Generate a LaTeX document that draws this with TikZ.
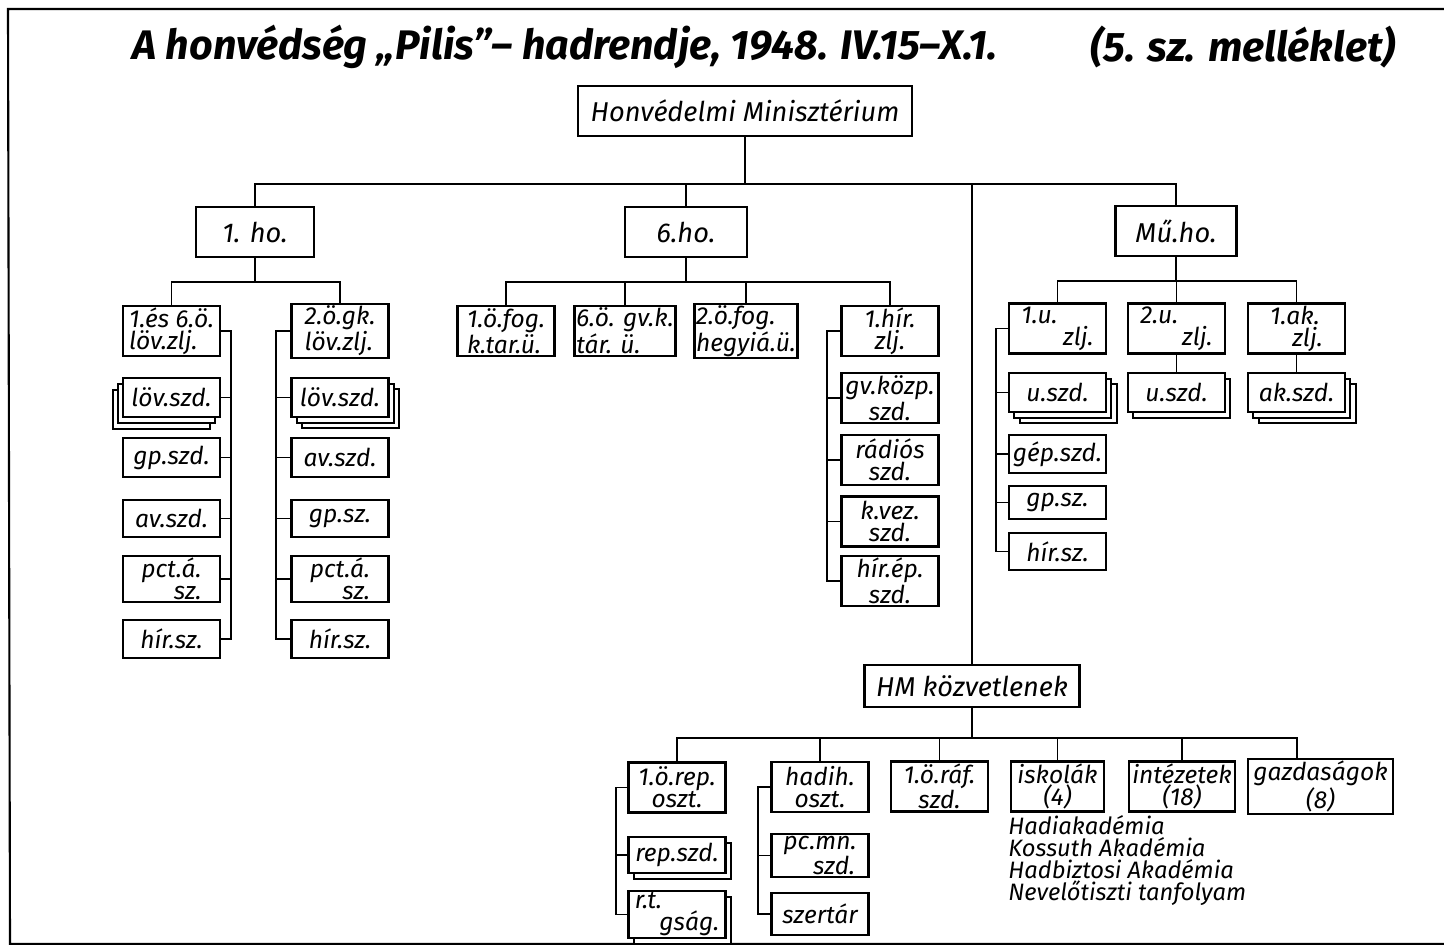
\documentclass[tikz,border=0pt]{standalone}
\usepackage{fontspec}
\setmainfont{Fira Sans}
\usetikzlibrary{shadows}

\tikzset{
  unitbox/.style={draw, line width=1.4pt, fill=white, inner sep=1pt, align=center,
    font=\fontsize{14}{12.5}\selectfont\itshape, minimum width=1.94cm, minimum height=1cm},
  topbox/.style={unitbox, font=\fontsize{15.5}{14}\selectfont\itshape},
  subbox/.style={unitbox, minimum height=0.78cm},
  link/.style={line width=1.1pt},
  stackleft/.style={
    general shadow={shadow xshift=-5.6pt, shadow yshift=-6.6pt, draw, line width=1.1pt, fill=white},
    general shadow={shadow xshift=-2.8pt, shadow yshift=-3.3pt, draw, line width=1.1pt, fill=white}},
  stackright/.style={
    general shadow={shadow xshift=6pt, shadow yshift=-6.4pt, draw, line width=1.1pt, fill=white},
    general shadow={shadow xshift=3pt, shadow yshift=-3.2pt, draw, line width=1.1pt, fill=white}},
  stackone/.style={
    general shadow={shadow xshift=3pt, shadow yshift=-3.2pt, draw, line width=1.1pt, fill=white}},
  heading/.style={font=\fontsize{23.5}{26}\selectfont\bfseries\itshape},
}

\begin{document}
\begin{tikzpicture}[x=0.02cm, y=-0.02cm]
  \useasboundingbox (0,0) rectangle (1444,945);
  \draw[line width=1.2pt] (1444,9) -- (8,9) -- (10,944) -- (1444,944);

  \node[heading] (title) at (565,47) {A honvédség „Pilis”– hadrendje, 1948. IV.15–X.1.};
  \node[heading] (annex) at (1243,47) {(5. sz. melléklet)};

  % ministry and divisions
  \node[topbox, minimum width=6.68cm] (hm) at (745,111) {Honvédelmi Minisztérium};
  \node[topbox, minimum width=2.36cm] (ho1) at (255,232) {1. ho.};
  \node[topbox, minimum width=2.44cm] (ho6) at (686,232) {6.ho.};
  \node[topbox, minimum width=2.42cm] (muho) at (1176,231) {Mű.ho.};
  \node[topbox, minimum width=4.3cm, minimum height=0.84cm] (hmk) at (972,686) {HM közvetlenek};

  \coordinate (topbus) at (0,184);
  \draw[link] (hm.south) -- (hm.south |- topbus);
  \draw[link] (ho1.north) |- (muho.north |- topbus) -- (muho.north);
  \draw[link] (ho6.north) -- (ho6.north |- topbus);
  \draw[link] (hmk.north) -- (hmk.north |- topbus);

  % 1. ho.
  \coordinate (busA) at (0,282);
  \node[unitbox, align=left] (zljA) at (171.5,331) {1.és 6.ö.\\löv.zlj.};
  \node[unitbox, align=left] (zljB) at (340,331) {2.ö.gk.\\löv.zlj.};
  \draw[link] (ho1.south) -- (ho1.south |- busA);
  \draw[link] (zljA.north) |- (zljB.north |- busA) -- (zljB.north);

  \node[subbox, stackleft] (lovA) at (171.5,397.5) {löv.szd.};
  \node[subbox] (gpA) at (171.5,457.5) {gp.szd.};
  \node[subbox, minimum height=0.74cm] (avA) at (171.5,518.5) {av.szd.};
  \node[subbox, minimum height=0.84cm, align=right] (pctA) at (171.5,579) {pct.á.\\sz.};
  \node[subbox, minimum height=0.76cm] (hirA) at (171.5,639) {hír.sz.};
  \draw[link] (zljA.east) -- ++(10,0) |- (hirA.east);
  \foreach \b in {lovA,gpA,avA,pctA} \draw[link] (\b.east) -- ++(10,0);

  \node[subbox, stackright] (lovB) at (340,397.5) {löv.szd.};
  \node[subbox] (avB) at (340,457.5) {av.szd.};
  \node[subbox, minimum height=0.74cm] (gpB) at (340,518.5) {gp.sz.};
  \node[subbox, minimum height=0.84cm, align=right] (pctB) at (340,579) {pct.á.\\sz.};
  \node[subbox, minimum height=0.76cm] (hirB) at (340,639) {hír.sz.};
  \draw[link] (zljB.west) -- ++(-14,0) |- (hirB.west);
  \foreach \b in {lovB,avB,gpB,pctB} \draw[link] (\b.west) -- ++(-14,0);

  % 6. ho.
  \coordinate (busB) at (0,282);
  \node[unitbox, align=left] (ktar) at (506,331) {1.ö.fog.\\k.tar.ü.};
  \node[unitbox, align=left] (gvk) at (625,331) {6.ö. gv.k.\\tár. ü.};
  \node[unitbox, align=left] (hegy) at (746,331) {2.ö.fog.\\hegyiá.ü.};
  \node[unitbox] (hirzlj) at (890,331) {1.hír.\\zlj.};
  \draw[link] (ho6.south) -- (ho6.south |- busB);
  \draw[link] (ktar.north) |- (hirzlj.north |- busB) -- (hirzlj.north);
  \draw[link] (gvk.north) -- (gvk.north |- busB);
  \draw[link] (hegy.north) -- (hegy.north |- busB);

  \node[unitbox] (kozp) at (890,398) {gv.közp.\\szd.};
  \node[unitbox] (radio) at (890,460) {rádiós\\szd.};
  \node[unitbox] (kvez) at (890,521.5) {k.vez.\\szd.};
  \node[unitbox] (hirep) at (890,581) {hír.ép.\\szd.};
  \draw[link] (hirzlj.west) -- ++(-13,0) |- (hirep.west);
  \foreach \b in {kozp,radio,kvez} \draw[link] (\b.west) -- ++(-13,0);

  % Mű. ho.
  \coordinate (busC) at (0,281);
  \node[unitbox, align=left] (uzljA) at (1057.5,328.5) {1.u.\\\hspace*{1.7em}zlj.};
  \node[unitbox, align=left] (uzljB) at (1176.5,328.5) {2.u.\\\hspace*{1.7em}zlj.};
  \node[unitbox, align=left] (akzlj) at (1296.5,328.5) {1.ak.\\\hspace*{0.9em}zlj.};
  \draw[link] (muho.south) -- (muho.south |- busC);
  \draw[link] (uzljA.north) |- (akzlj.north |- busC) -- (akzlj.north);
  \draw[link] (uzljB.north) -- (uzljB.north |- busC);

  \node[subbox, stackright] (uszdA) at (1057.5,392.5) {u.szd.};
  \node[subbox, minimum height=0.76cm] (gep) at (1057.5,454) {gép.szd.};
  \node[subbox, minimum height=0.66cm] (gpC) at (1057.5,502.5) {gp.sz.};
  \node[subbox, minimum height=0.74cm] (hirC) at (1057.5,551.5) {hír.sz.};
  \draw[link] (uzljA.west) -- ++(-12,0) |- (hirC.west);
  \foreach \b in {uszdA,gep,gpC} \draw[link] (\b.west) -- ++(-12,0);

  \node[subbox, stackone] (uszdB) at (1176.5,392.5) {u.szd.};
  \node[subbox, stackright] (akszd) at (1296.5,392.5) {ak.szd.};
  \draw[link] (uzljB.south) -- (uszdB.north);
  \draw[link] (akzlj.south) -- (akszd.north);

  % HM közvetlenek
  \coordinate (busD) at (0,738);
  \coordinate (gazdbus) at (1297,738);
  \node[unitbox] (rep) at (677,787.5) {1.ö.rep.\\oszt.};
  \node[unitbox] (hadih) at (820,787) {hadih.\\oszt.};
  \node[unitbox] (raf) at (939.5,786.5) {1.ö.ráf.\\szd.};
  \node[unitbox, minimum width=1.86cm] (isk) at (1057.5,786.5) {iskolák\\(4)};
  \node[unitbox, minimum width=2.12cm] (int) at (1182,786.5) {intézetek\\(18)};
  \node[unitbox, minimum width=2.9cm] (gazd) at (1320.5,786.5) {gazdaságok\\(8)};
  \draw[link] (hmk.south) -- (hmk.south |- busD);
  \draw[link] (rep.north) |- (gazdbus) -- (gazdbus |- gazd.north);
  \foreach \b in {hadih,raf,isk,int} \draw[link] (\b.north) -- (\b.north |- busD);

  \node[subbox, minimum height=0.72cm, stackone] (repszd) at (677,855) {rep.szd.};
  \node[subbox, minimum height=0.86cm, stackone, align=left] (rtg) at (677,914.5) {r.t.\\\hspace*{1em}gság.};
  \draw[link] (rep.west) -- ++(-11,0) |- (rtg.west);
  \draw[link] (repszd.west) -- ++(-11,0);

  \node[subbox, align=left] (pcmn) at (820,855.5) {pc.mn.\\\hspace*{1.2em}szd.};
  \node[subbox, minimum height=0.84cm] (szertar) at (820,914) {szertár};
  \draw[link] (hadih.west) -- ++(-12,0) |- (szertar.west);
  \draw[link] (pcmn.west) -- ++(-12,0);

  \node[anchor=north west, align=left, inner sep=0pt, font=\fontsize{13.5}{12.6}\selectfont\itshape]
    (schools) at (1008,815) {Hadiakadémia\\Kossuth Akadémia\\Hadbiztosi Akadémia\\Nevelőtiszti tanfolyam};
\end{tikzpicture}
\end{document}
